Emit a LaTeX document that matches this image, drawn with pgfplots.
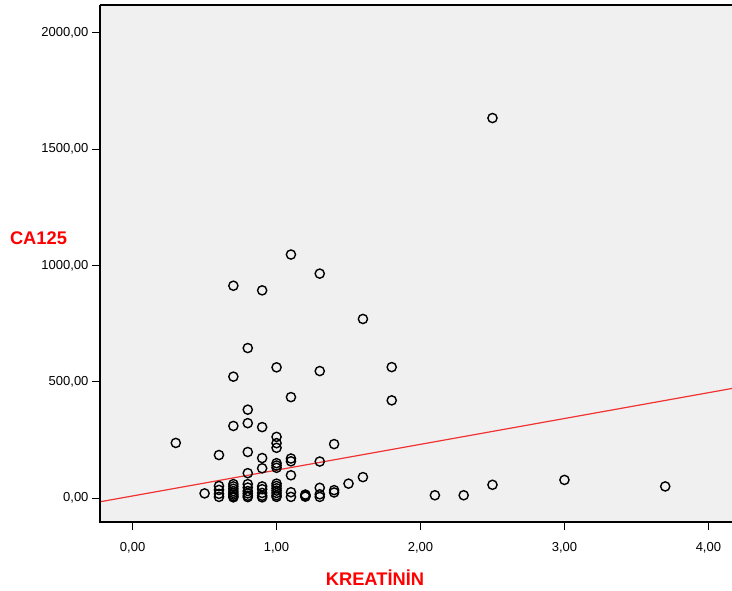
\documentclass[border=0pt]{standalone}
\usepackage{pgfplots}
\pgfplotsset{compat=1.18}
\usepackage{fontspec}
\setmainfont{Liberation Sans}
\definecolor{bgc}{RGB}{240,240,240}
\definecolor{lblred}{RGB}{255,0,0}
\definecolor{linered}{RGB}{240,50,50}
\begin{document}
\begin{tikzpicture}
\begin{axis}[
  name=ax,
  width=632pt, height=517pt, scale only axis,
  xmin=-0.2265, xmax=4.164, ymin=-103, ymax=2120,
  axis background/.style={fill=bgc},
  axis line style={draw=none},
  xtick={0,1,2,3,4},
  xticklabels={{0,00},{1,00},{2,00},{3,00},{4,00}},
  ytick={0,500,1000,1500,2000},
  yticklabels={{0,00},{500,00},{1000,00},{1500,00},{2000,00}},
  xtick pos=left, ytick pos=left,
  tick align=outside,
  major tick length=8pt,
  tick style={black, line width=1.1pt},
  ticklabel style={font=\fontsize{13}{13}\selectfont},
  xticklabel style={yshift=-9pt},
  clip=false,
]
\addplot[only marks, mark=o, mark size=4.6pt, mark options={line width=1.4pt, black}] coordinates {
(0.3,237) (0.5,20)
(0.6,185) (0.6,52) (0.6,35) (0.6,18) (0.6,5)
(0.7,913) (0.7,522) (0.7,310) (0.7,60) (0.7,50) (0.7,40) (0.7,30) (0.7,22) (0.7,15) (0.7,8) (0.7,3)
(0.8,645) (0.8,380) (0.8,322) (0.8,198) (0.8,107) (0.8,60) (0.8,45) (0.8,30) (0.8,20) (0.8,10) (0.8,4)
(0.9,893) (0.9,305) (0.9,172) (0.9,128) (0.9,50) (0.9,38) (0.9,22) (0.9,10) (0.9,3)
(1.0,562) (1.0,263) (1.0,236) (1.0,216) (1.0,150) (1.0,140) (1.0,130) (1.0,62) (1.0,52) (1.0,42) (1.0,32) (1.0,22) (1.0,12) (1.0,5)
(1.1,1047) (1.1,434) (1.1,170) (1.1,158) (1.1,98) (1.1,25) (1.1,5)
(1.2,15) (1.2,12) (1.2,9) (1.2,6)
(1.3,965) (1.3,546) (1.3,157) (1.3,44) (1.3,16) (1.3,5)
(1.4,232) (1.4,34) (1.4,24)
(1.5,62)
(1.6,770) (1.6,90)
(1.8,563) (1.8,420)
(2.1,12) (2.3,12)
(2.5,1634) (2.5,57)
(3.0,78) (3.7,50)
};
\addplot[linered, line width=1.2pt] coordinates {(-0.2265,-16.1) (4.164,471.2)};
\draw[black, line width=1.2pt] (axis description cs:0,1) -- (axis description cs:0,0) -- (axis description cs:1,0);
\draw[black, line width=1.2pt] (axis description cs:0,1) -- (axis description cs:1,1);
\end{axis}
\node[text=lblred, font=\bfseries\fontsize{18.3}{19}\selectfont] at ([xshift=-61.5pt, yshift=284pt]ax.south west) {CA125};
\node[text=lblred, font=\bfseries\fontsize{18.3}{19}\selectfont] at ([xshift=275pt, yshift=-56pt]ax.south west) {KREATİNİN};
\pgfresetboundingbox
\useasboundingbox ([xshift=-100pt, yshift=-68pt]ax.south west) rectangle ([yshift=5pt]ax.north east);
\end{tikzpicture}
\end{document}
